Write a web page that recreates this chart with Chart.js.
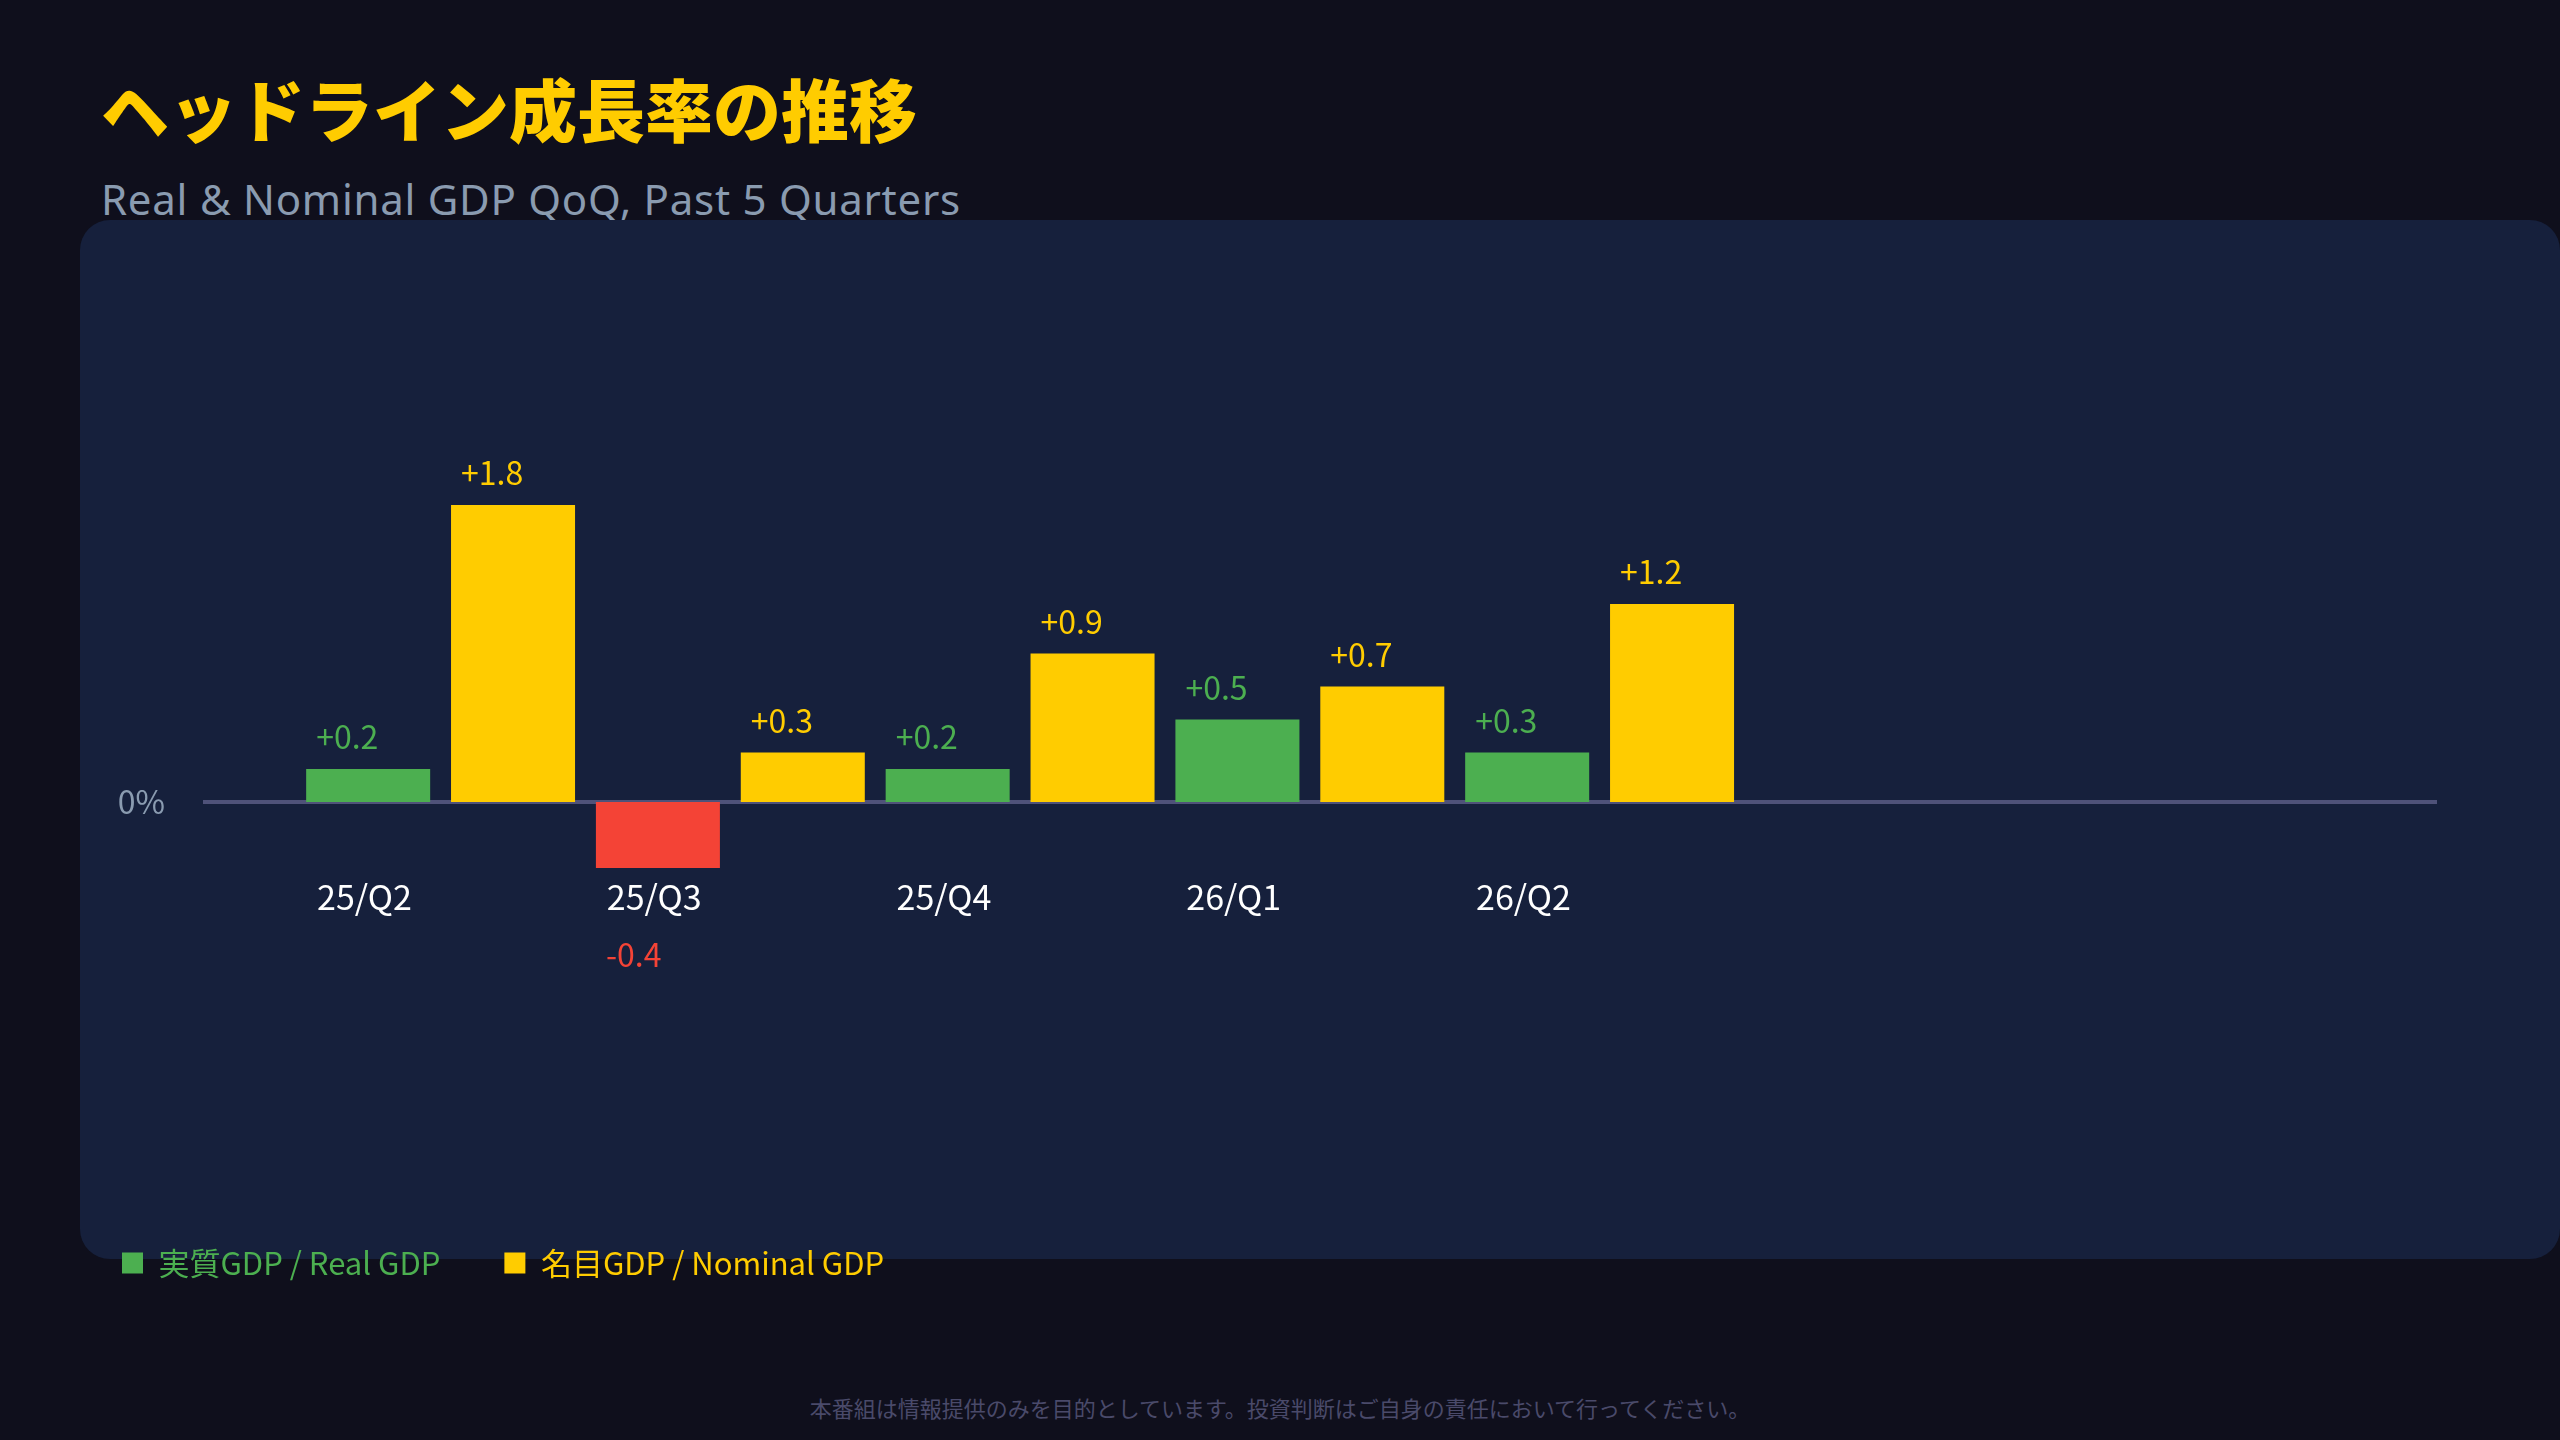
<!DOCTYPE html>
<html lang="ja">
<head>
<meta charset="utf-8">
<title>ヘッドライン成長率の推移</title>
<script src="https://cdn.jsdelivr.net/npm/chart.js@4.4.1/dist/chart.umd.min.js"></script>
<style>
  html, body { margin: 0; padding: 0; }
  body {
    width: 2560px; height: 1440px; overflow: hidden; position: relative;
    background: #0f0f1c; font-family: "Noto Sans CJK JP", "Noto Sans", sans-serif;
  }
  h1 {
    position: absolute; left: 101px; top: 74px; margin: 0;
    font-size: 68px; line-height: 68px; font-weight: 900; color: #ffcc00;
  }
  .sub {
    position: absolute; left: 101px; top: 178px; margin: 0;
    font-family: "Noto Sans", sans-serif; letter-spacing: 0.75px;
    font-size: 42px; line-height: 42px; color: #8a9bb0;
  }
  .panel {
    position: absolute; left: 80px; top: 220px; width: 2480px; height: 1039px;
    background: #16203c; border-radius: 30px; z-index: 1;
  }
  #wrap { position: absolute; left: 58px; top: 220px; width: 2502px; height: 1080px; z-index: 2; }
  .note {
    position: absolute; left: 0; width: 2560px; top: 1396px; text-align: center;
    font-size: 22px; line-height: 22px; color: #4a4a6a;
  }
</style>
</head>
<body>
<h1>ヘッドライン成長率の推移</h1>
<p class="sub">Real &amp; Nominal GDP QoQ, Past 5 Quarters</p>
<div class="panel"></div>
<div id="wrap"><canvas id="myChart" width="2502" height="1080"></canvas></div>
<div class="note">本番組は情報提供のみを目的としています。投資判断はご自身の責任において行ってください。</div>
<script>
// data
var quarters = ['25/Q2', '25/Q3', '25/Q4', '26/Q1', '26/Q2'];
var realGdp = [0.2, -0.4, 0.2, 0.5, 0.3];
var nominalGdp = [1.8, 0.3, 0.9, 0.7, 1.2];
var seriesNames = ['実質GDP / Real GDP', '名目GDP / Nominal GDP'];

var GREEN = '#4caf50', RED = '#f44336', YELLOW = '#ffcc00';
var FONT = '"Noto Sans CJK JP", "Noto Sans", sans-serif';

function points(values) {
   return values.map(function(v, i) { return {x: i, y: v}; });
}

// value labels above (or below) each bar
var valueLabels = {
   id: 'valueLabels',
   afterDatasetsDraw: function(chart) {
      var ctx = chart.ctx;
      ctx.save();
      ctx.font = '32px ' + FONT;
      ctx.textAlign = 'left';
      ctx.textBaseline = 'alphabetic';
      chart.data.datasets.forEach(function(ds, di) {
         chart.getDatasetMeta(di).data.forEach(function(bar, i) {
            var v = ds.data[i].y;
            ctx.fillStyle = v < 0 ? RED : ds.textColor;
            var text = (v > 0 ? '+' : '') + v.toFixed(1);
            var y = v < 0 ? bar.y + 99 : bar.y - 20;
            ctx.fillText(text, bar.x - bar.width / 2 + 10, y);
         });
      });
      ctx.restore();
   }
};

var ctx = document.getElementById('myChart').getContext('2d');
var chart = new Chart(ctx, {
   type: 'bar',
   data: {
      datasets: [{
         label: seriesNames[0],
         data: points(realGdp),
         textColor: GREEN,
         backgroundColor: function(c) { return c.raw && c.raw.y < 0 ? RED : GREEN; }
      }, {
         label: seriesNames[1],
         data: points(nominalGdp),
         textColor: YELLOW,
         backgroundColor: YELLOW
      }]
   },
   options: {
      responsive: false,
      animation: false,
      categoryPercentage: 1.0,
      barPercentage: 0.856,
      layout: { padding: { top: 252, right: 123, bottom: 11.5, left: 0 } },
      scales: {
         x: {
            type: 'linear',
            offset: false,
            min: -0.82,
            max: 6.89,
            grid: { display: false, offset: false },
            border: { display: false },
            afterFit: function(s) { s.height = 315.5; },
            ticks: {
               stepSize: 1,
               includeBounds: false,
               autoSkip: false,
               maxRotation: 0,
               align: 'start',
               labelOffset: -123.5,
               padding: 1,
               color: '#ffffff',
               font: { family: FONT, size: 34 },
               callback: function(v) {
                  return Number.isInteger(v) && quarters[v] ? quarters[v] : '';
               }
            }
         },
         y: {
            min: -0.4,
            max: 2.0,
            border: { display: false },
            afterFit: function(s) { s.width = 145; },
            grid: {
               drawTicks: false,
               lineWidth: 4,
               color: function(c) { return Math.abs(c.tick.value) < 1e-9 ? '#4f5279' : 'rgba(0,0,0,0)'; }
            },
            ticks: {
               stepSize: 0.4,
               padding: 38,
               color: '#8a9bb0',
               font: { family: FONT, size: 32 },
               callback: function(v) { return Math.abs(v) < 1e-9 ? '0%' : ''; }
            }
         }
      },
      plugins: {
         tooltip: { enabled: false },
         legend: {
            position: 'bottom',
            align: 'start',
            labels: {
               boxWidth: 21,
               boxHeight: 21,
               padding: 64,
               font: { family: FONT, size: 31 },
               generateLabels: function(ch) {
                  return ch.data.datasets.map(function(ds, i) {
                     return {
                        text: ds.label,
                        fillStyle: ds.textColor,
                        strokeStyle: ds.textColor,
                        lineWidth: 0,
                        fontColor: ds.textColor,
                        hidden: false,
                        datasetIndex: i
                     };
                  });
               }
            }
         }
      }
   },
   plugins: [valueLabels]
});
</script>
</body>
</html>
